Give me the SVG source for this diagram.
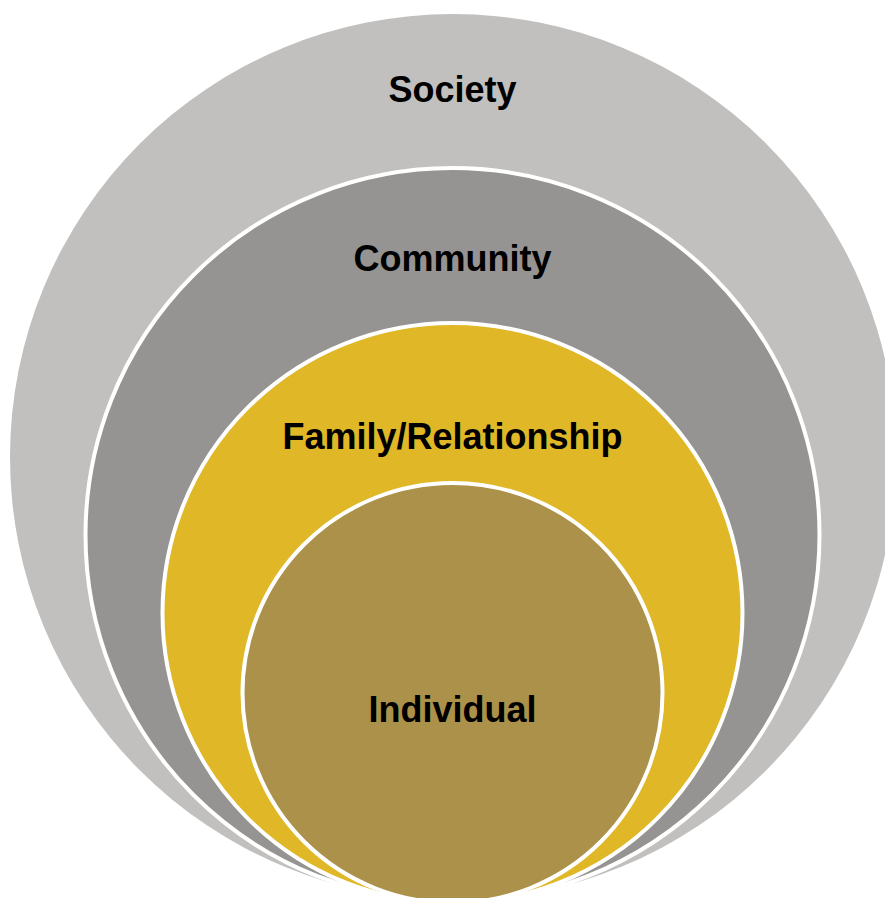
<svg xmlns="http://www.w3.org/2000/svg" width="885" height="898" viewBox="0 0 885 898">
<style>
text{font-family:"Liberation Sans",Arial,sans-serif;font-weight:bold;font-size:36px;fill:#000;text-anchor:middle}
.ring{stroke:#fff;stroke-width:4}
</style>
<rect width="885" height="898" fill="#fff"/>
<g id="society"><circle cx="453" cy="457" r="443" fill="#C1C0BE"/><text x="452.5" y="102">Society</text></g>
<g id="community"><circle class="ring" cx="452.5" cy="535" r="367" fill="#959492"/><text x="452.5" y="271">Community</text></g>
<g id="family"><circle class="ring" cx="452.5" cy="613" r="290" fill="#DFB727"/><text x="452.5" y="449">Family/Relationship</text></g>
<g id="individual"><circle class="ring" cx="452.5" cy="693" r="210" fill="#AB914A"/><text x="452.5" y="722">Individual</text></g>
<g id="connectors"/>
</svg>
